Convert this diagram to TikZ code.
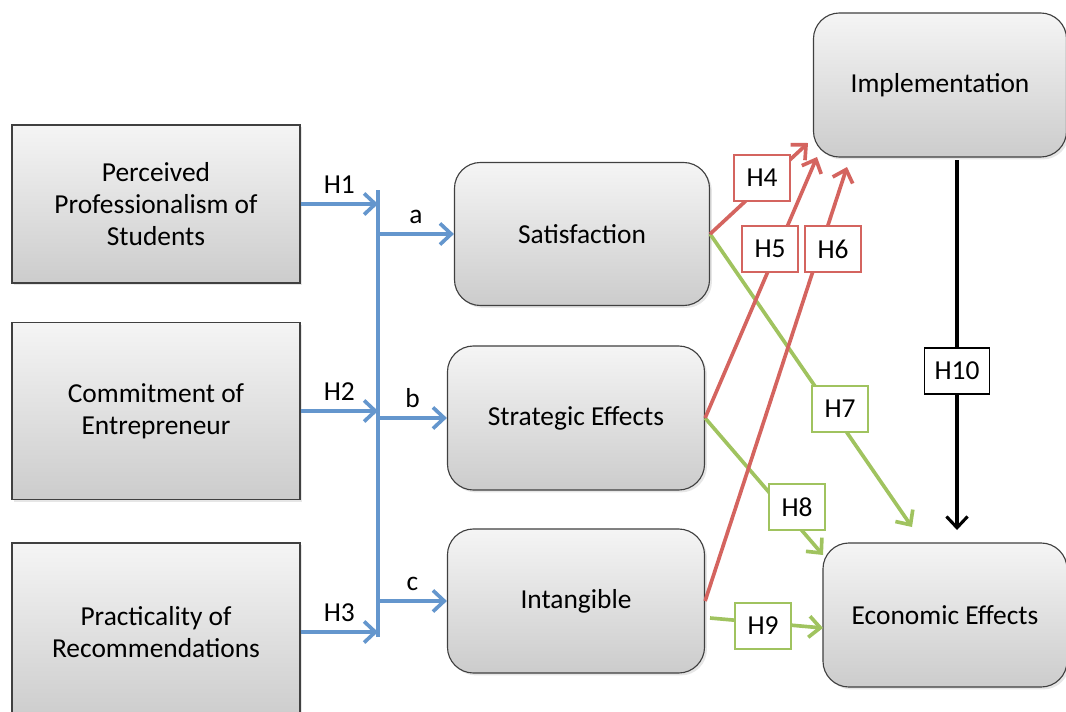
\documentclass[tikz,border=0pt]{standalone}
\usepackage{fontspec}
\setmainfont{Carlito}
\usetikzlibrary{arrows.meta,positioning,calc,shadows}
\definecolor{hblue}{RGB}{100,150,205}
\definecolor{hred}{RGB}{212,100,95}
\definecolor{hgreen}{RGB}{160,195,95}

\begin{document}
\begin{tikzpicture}[x=0.025cm, y=-0.025cm, font=\fontsize{19.5}{23}\selectfont,
    boxnode/.style={draw=black!75, line width=0.8pt, top color=black!4, bottom color=black!20, align=center,
        drop shadow={opacity=0.2, shadow xshift=0.6mm, shadow yshift=-0.6mm}},
    factornode/.style={boxnode, minimum width=7.2cm},
    effectnode/.style={boxnode, rounded corners=0.65cm, minimum height=3.6cm},
    hypnode/.style={draw=#1, line width=1.3pt, fill=white, minimum height=1.15cm, minimum width=1.38cm, inner xsep=0.25cm},
    bluearrow/.style={draw=hblue, line width=2.6pt, -{Straight Barb[length=8pt,width=15pt]}},
    redarrow/.style={draw=hred, line width=2.6pt, -{Straight Barb[length=8pt,width=15pt]}},
    greenarrow/.style={draw=hgreen, line width=2.6pt, -{Straight Barb[length=8pt,width=15pt]}},
    blackarrow/.style={draw=black, line width=2.2pt, -{Straight Barb[length=8pt,width=15pt]}}]
    \useasboundingbox (0,0) rectangle (1066,711);

    % left hand factors
    \node[factornode, minimum height=3.95cm] (prof) at (156,204) {Perceived\\Professionalism of\\Students};
    \node[factornode, minimum height=4.43cm] (commit) at (156,411) {Commitment of\\Entrepreneur};
    \node[factornode, minimum height=4.45cm] (pract) at (156,632) {Practicality of\\Recommendations};

    % effects
    \node[effectnode, minimum width=6.375cm, minimum height=3.575cm] (sat) at (582,234) {Satisfaction};
    \node[effectnode, minimum width=6.425cm] (strat) at (576,418) {Strategic Effects};
    \node[effectnode, minimum width=6.425cm] (intang) at (576,601) {Intangible};
    \node[effectnode, minimum width=6.325cm] (impl) at (940,85) {Implementation};
    \node[effectnode, minimum width=6.1cm] (econ) at (945,615) {Economic Effects};

    % blue bar
    \coordinate (bartop) at (378,190);
    \coordinate (barbot) at (378,637);
    \draw[hblue, line width=2.6pt] (bartop) -- (barbot);
    \draw[bluearrow] (prof.east) -- node[above=3pt] (h1) {H1} (prof.east -| bartop);
    \draw[bluearrow] (commit.east) -- node[above=3pt] (h2) {H2} (commit.east -| bartop);
    \draw[bluearrow] (pract.east) -- node[above=3pt] (h3) {H3} (pract.east -| bartop);
    \draw[bluearrow] (bartop |- sat.west) -- node[above=3pt] (la) {a} (sat.west);
    \draw[bluearrow] (bartop |- strat.west) -- node[above=3pt] (lb) {b} (strat.west);
    \draw[bluearrow] (bartop |- intang.west) -- node[above=3pt] (lc) {c} (intang.west);

    % arrow ends
    \coordinate (t4) at (808,143);
    \coordinate (t5) at (817,157);
    \coordinate (t6) at (847,167);
    \coordinate (t7) at (912,527);
    \coordinate (t8) at (823,555);
    \coordinate (t9) at (823,628);
    \coordinate (s9) at (710,618);
    \coordinate (s10) at (957,160);
    \coordinate (t10) at (957,530);

    \draw[greenarrow] (sat.east) -- (t7);
    \draw[greenarrow] (strat.east) -- (t8);
    \draw[greenarrow] (s9) -- (t9);
    \draw[redarrow] (sat.east) -- (t4);
    \draw[redarrow] (strat.east) -- (t5);
    \draw[redarrow] (intang.east) -- (t6);
    \draw[blackarrow] (s10) -- (t10);

    % hypothesis labels
    \node[hypnode=hred] (h4) at (762,178) {H4};
    \node[hypnode=hred] (h5) at (770,249) {H5};
    \node[hypnode=hred] (h6) at (833,249) {H6};
    \node[hypnode=hgreen] (h7) at (840,409) {H7};
    \node[hypnode=hgreen] (h8) at (797,507) {H8};
    \node[hypnode=hgreen] (h9) at (763,626) {H9};
    \node[hypnode=black] (h10) at (957,371) {H10};
\end{tikzpicture}
\end{document}
